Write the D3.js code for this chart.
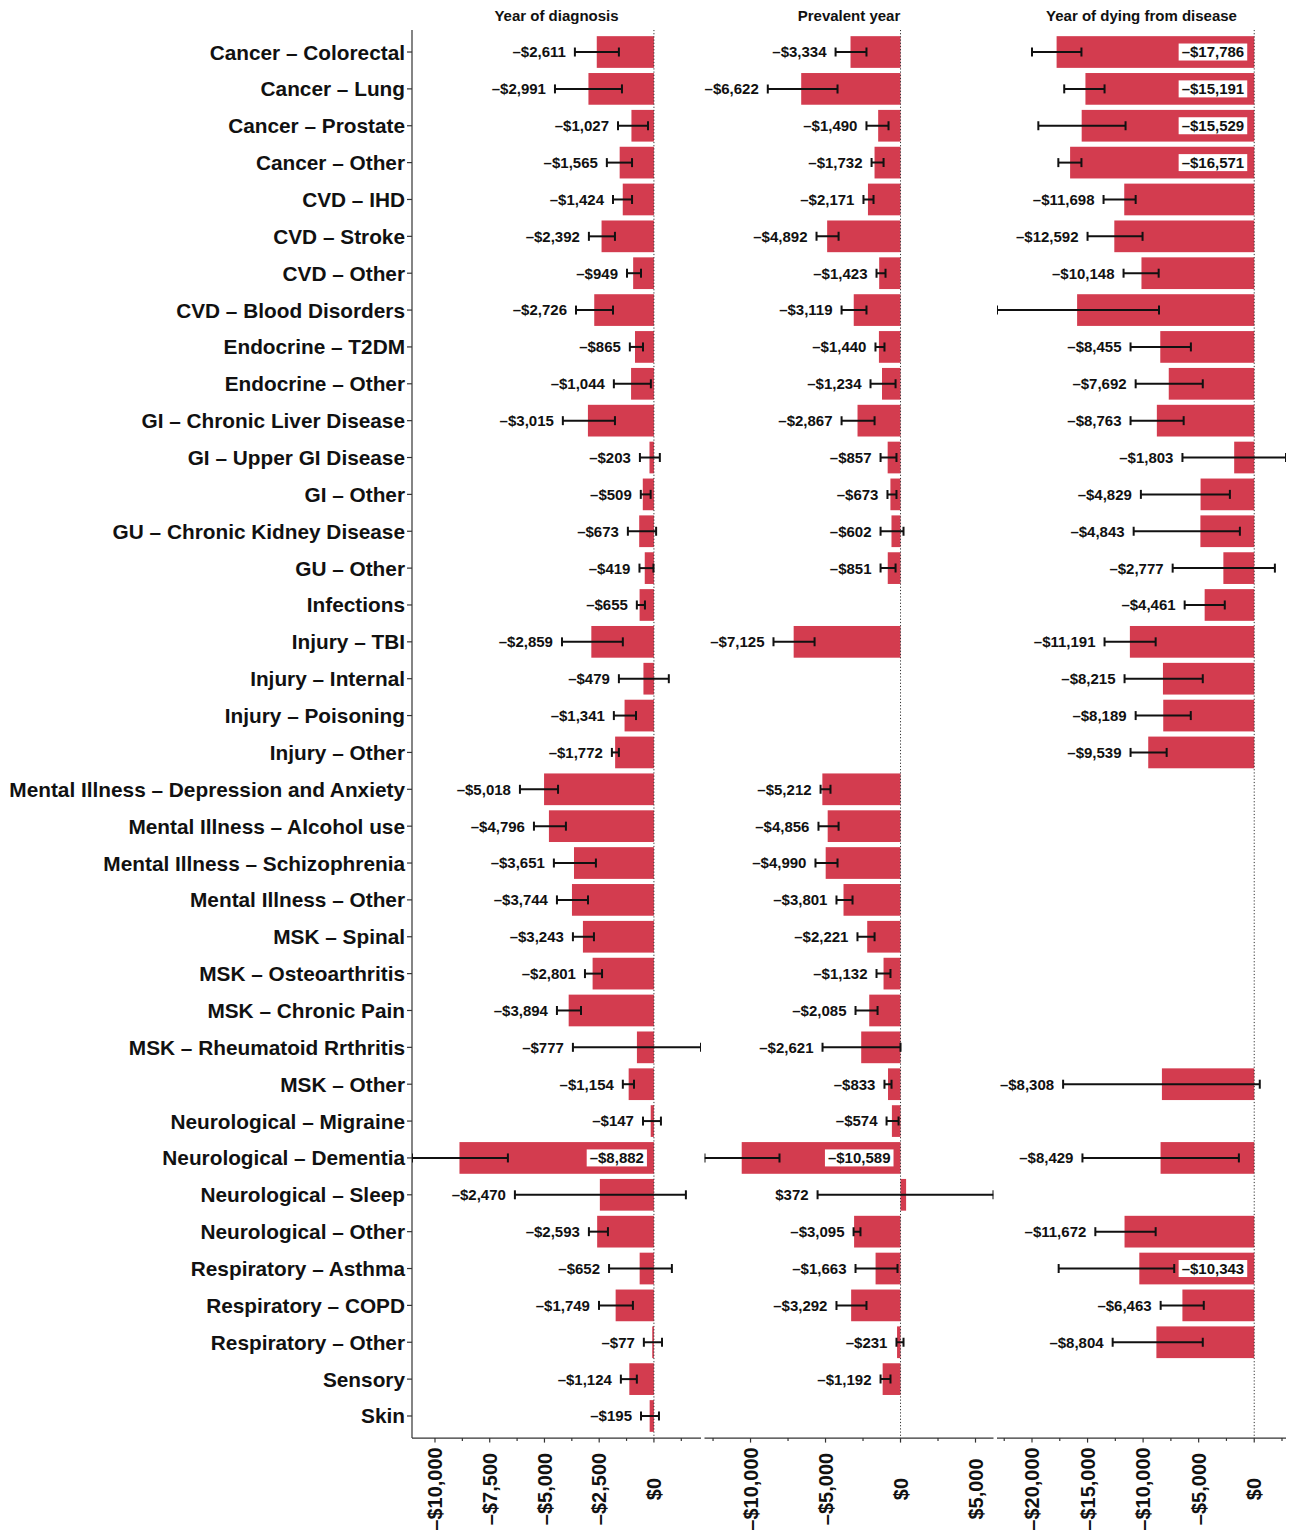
<!DOCTYPE html>
<html>
<head>
<meta charset="utf-8">
<script src="https://cdn.jsdelivr.net/npm/d3@7"></script>
<style>
  body { margin: 0; background: #fff; }
  svg { display: block; }
  text { font-family: "Liberation Sans", Arial, Helvetica, sans-serif; font-weight: bold; }
</style>
</head>
<body>
<svg id="chart" width="1297" height="1530"></svg>
<script>
// Condition categories, top to bottom
const categories = [
  "Cancer – Colorectal", "Cancer – Lung", "Cancer – Prostate", "Cancer – Other",
  "CVD – IHD", "CVD – Stroke", "CVD – Other", "CVD – Blood Disorders",
  "Endocrine – T2DM", "Endocrine – Other",
  "GI – Chronic Liver Disease", "GI – Upper GI Disease", "GI – Other",
  "GU – Chronic Kidney Disease", "GU – Other", "Infections",
  "Injury – TBI", "Injury – Internal", "Injury – Poisoning", "Injury – Other",
  "Mental Illness – Depression and Anxiety", "Mental Illness – Alcohol use",
  "Mental Illness – Schizophrenia", "Mental Illness – Other",
  "MSK – Spinal", "MSK – Osteoarthritis", "MSK – Chronic Pain",
  "MSK – Rheumatoid Rrthritis", "MSK – Other",
  "Neurological – Migraine", "Neurological – Dementia", "Neurological – Sleep",
  "Neurological – Other",
  "Respiratory – Asthma", "Respiratory – COPD", "Respiratory – Other",
  "Sensory", "Skin"
];

const panelTitles = ["Year of diagnosis", "Prevalent year", "Year of dying from disease"];

// Year of diagnosis: estimate and 95% interval
const diagnosisCost = [-2611, -2991, -1027, -1565, -1424, -2392, -949, -2726, -865, -1044,
  -3015, -203, -509, -673, -419, -655, -2859, -479, -1341, -1772,
  -5018, -4796, -3651, -3744, -3243, -2801, -3894, -777, -1154,
  -147, -8882, -2470, -2593, -652, -1749, -77, -1124, -195];
const diagnosisLow = [-3610, -4520, -1640, -2150, -1870, -2970, -1230, -3560, -1100, -1830,
  -4160, -640, -600, -1190, -660, -780, -4200, -1600, -1830, -1920,
  -6120, -5480, -4570, -4430, -3700, -3150, -4430, -3700, -1420,
  -500, -11050, -6350, -2970, -2050, -2510, -460, -1510, -590];
const diagnosisHigh = [-1600, -1460, -270, -1000, -1000, -1780, -590, -1870, -500, -140,
  -1780, 270, -150, 100, -20, -410, -1420, 680, -820, -1600,
  -4380, -4020, -2650, -3010, -2740, -2370, -3330, 2150, -910,
  320, -6670, 1460, -2100, 820, -960, 370, -780, 230];

// Prevalent year
const prevalentCost = [-3334, -6622, -1490, -1732, -2171, -4892, -1423, -3119, -1440, -1234,
  -2867, -857, -673, -602, -851, null, -7125, null, null, null,
  -5212, -4856, -4990, -3801, -2221, -1132, -2085, -2621, -833,
  -574, -10589, 372, -3095, -1663, -3292, -231, -1192, null];
const prevalentLow = [-4330, -8850, -2270, -1930, -2470, -5600, -1600, -3930, -1670, -2000,
  -3930, -1330, -870, -1330, -1330, null, -8470, null, null, null,
  -5330, -5470, -5670, -4270, -2870, -1600, -3000, -5200, -1070,
  -930, -13070, -5530, -3130, -3000, -4270, -270, -1330, null];
const prevalentHigh = [-2270, -4200, -800, -1130, -1800, -4130, -1000, -2270, -1070, -330,
  -1730, -270, -270, 200, -330, null, -5730, null, null, null,
  -4670, -4130, -4200, -3200, -1730, -670, -1530, 0, -600,
  -130, -8070, 6200, -2670, -200, -2270, 200, -670, null];

// Year of dying from disease
const deathCost = [-17786, -15191, -15529, -16571, -11698, -12592, -10148, -15940, -8455, -7692,
  -8763, -1803, -4829, -4843, -2777, -4461, -11191, -8215, -8189, -9539,
  null, null, null, null, null, null, null, null, -8308,
  null, -8429, null, -11672, -10343, -6463, -8804, null, null];
const deathLow = [-20000, -17100, -19430, -17630, -13560, -15000, -11760, -23150, -11130, -10670,
  -11130, -6460, -10200, -10850, -7340, -6260, -13470, -11670, -10670, -11130,
  null, null, null, null, null, null, null, null, -17200,
  null, -15460, null, -14300, -17600, -8420, -12740, null, null];
const deathHigh = [-15550, -13470, -11580, -15550, -10670, -10050, -8600, -8570, -5700, -4630,
  -6350, 2860, -2190, -1290, 1860, -2650, -8870, -4630, -5710, -7880,
  null, null, null, null, null, null, null, null, 500,
  null, -1380, null, -8870, -7200, -4540, -4630, null, null];

// Estimates printed without a value label
const unlabeled = [{ panel: 2, category: "CVD – Blood Disorders" }];

// Axis tick spacing per panel (labels on every second tick)
const tickSteps = [1250, 2500, 2500];

const panels = [
  { cost: diagnosisCost, low: diagnosisLow, high: diagnosisHigh },
  { cost: prevalentCost, low: prevalentLow, high: prevalentHigh },
  { cost: deathCost, low: deathLow, high: deathHigh }
];

const svg = d3.select("#chart");
const plotTop = 29.9, plotBottom = 1438.1;
const panelLefts = [412, 704.5, 997];
const panelWidth = 289;
const barColor = "#d33c4f";

const y = d3.scalePoint().domain(categories).range([plotTop, plotBottom]).padding(0.6);
const barH = y.step() * 0.86;

const numFmt = d3.format(",.0f");
const money = v => (v < 0 ? "–$" : "$") + numFmt(Math.abs(v));

// Category labels and the single left axis
const yAxis = svg.append("g");
yAxis.append("line")
  .attr("x1", panelLefts[0]).attr("x2", panelLefts[0])
  .attr("y1", plotTop).attr("y2", plotBottom)
  .attr("stroke", "#333").attr("stroke-width", 1.2);
categories.forEach(c => {
  yAxis.append("line")
    .attr("x1", panelLefts[0] - 5).attr("x2", panelLefts[0])
    .attr("y1", y(c)).attr("y2", y(c))
    .attr("stroke", "#333").attr("stroke-width", 1.2);
  yAxis.append("text")
    .attr("x", panelLefts[0] - 7).attr("y", y(c)).attr("dy", "0.36em")
    .attr("text-anchor", "end").attr("font-size", 20.8).attr("fill", "#111")
    .text(c);
});

panels.forEach((p, pi) => {
  const rows = categories.map((c, i) => ({
    category: c, cost: p.cost[i], low: p.low[i], high: p.high[i]
  })).filter(d => d.cost !== null);

  const left = panelLefts[pi], right = left + panelWidth;
  const x = d3.scaleLinear()
    .domain([d3.min(rows, d => d.low), d3.max(rows, d => d.high)])
    .range([left, right]);

  const g = svg.append("g");
  const clipId = "clip" + pi;
  g.append("clipPath").attr("id", clipId)
    .append("rect").attr("x", left).attr("y", plotTop)
    .attr("width", panelWidth).attr("height", plotBottom - plotTop);

  // Panel title
  g.append("text")
    .attr("x", (left + right) / 2).attr("y", 20.5)
    .attr("text-anchor", "middle").attr("font-size", 15).attr("fill", "#111")
    .text(panelTitles[pi]);

  const marks = g.append("g").attr("clip-path", `url(#${clipId})`);

  // Bars
  marks.selectAll("rect.bar").data(rows).join("rect")
    .attr("class", "bar")
    .attr("x", d => Math.min(x(0), x(d.cost)))
    .attr("width", d => Math.abs(x(d.cost) - x(0)))
    .attr("y", d => y(d.category) - barH / 2)
    .attr("height", barH)
    .attr("fill", barColor);

  // Zero reference line
  marks.append("line")
    .attr("x1", x(0)).attr("x2", x(0))
    .attr("y1", plotTop).attr("y2", plotBottom)
    .attr("stroke", "#333").attr("stroke-width", 1)
    .attr("stroke-dasharray", "1.2,2");

  // Interval whiskers
  const capH = 4.5;
  const eb = marks.selectAll("g.err").data(rows).join("g").attr("class", "err")
    .attr("stroke", "#111").attr("stroke-width", 2);
  eb.append("line")
    .attr("x1", d => x(d.low)).attr("x2", d => x(d.high))
    .attr("y1", d => y(d.category)).attr("y2", d => y(d.category));
  eb.append("line")
    .attr("x1", d => x(d.low)).attr("x2", d => x(d.low))
    .attr("y1", d => y(d.category) - capH).attr("y2", d => y(d.category) + capH);
  eb.append("line")
    .attr("x1", d => x(d.high)).attr("x2", d => x(d.high))
    .attr("y1", d => y(d.category) - capH).attr("y2", d => y(d.category) + capH);

  // Value labels: left of the interval, or inside the bar on a white tag when there is no room
  const labels = g.append("g");
  rows.forEach(d => {
    if (unlabeled.some(u => u.panel === pi && u.category === d.category)) return;
    const cy = y(d.category);
    const t = labels.append("text")
      .attr("font-size", 15).attr("fill", "#111")
      .attr("text-anchor", "end").attr("dy", "0.36em")
      .attr("y", cy).text(money(d.cost));
    const w = t.node().getComputedTextLength();
    const outsideX = x(d.low) - 9;
    if (outsideX - w < left - 2.5) {
      const tx = x(0) - 10;
      t.attr("x", tx);
      labels.insert("rect", () => t.node())
        .attr("x", tx - w - 3).attr("y", cy - 8.5)
        .attr("width", w + 6).attr("height", 17)
        .attr("fill", "#fff");
    } else {
      t.attr("x", outsideX);
    }
  });

  // Bottom axis
  const ax = g.append("g");
  ax.append("line")
    .attr("x1", left).attr("x2", right)
    .attr("y1", plotBottom).attr("y2", plotBottom)
    .attr("stroke", "#333").attr("stroke-width", 1.2);
  const step = tickSteps[pi];
  const [d0, d1] = x.domain();
  const ticks = d3.range(Math.ceil(d0 / step) * step, d1 + 1e-6, step);
  ticks.forEach(v => {
    const major = Math.round(v / step) % 2 === 0;
    ax.append("line")
      .attr("x1", x(v)).attr("x2", x(v))
      .attr("y1", plotBottom).attr("y2", plotBottom + (major ? 4.5 : 2.8))
      .attr("stroke", "#333").attr("stroke-width", 1.2);
    if (major) {
      ax.append("text")
        .attr("transform", `translate(${x(v)},1489) rotate(-90)`)
        .attr("text-anchor", "middle").attr("dy", "0.36em")
        .attr("font-size", 20).attr("fill", "#111")
        .text(money(v));
    }
  });
});
</script>
</body>
</html>
